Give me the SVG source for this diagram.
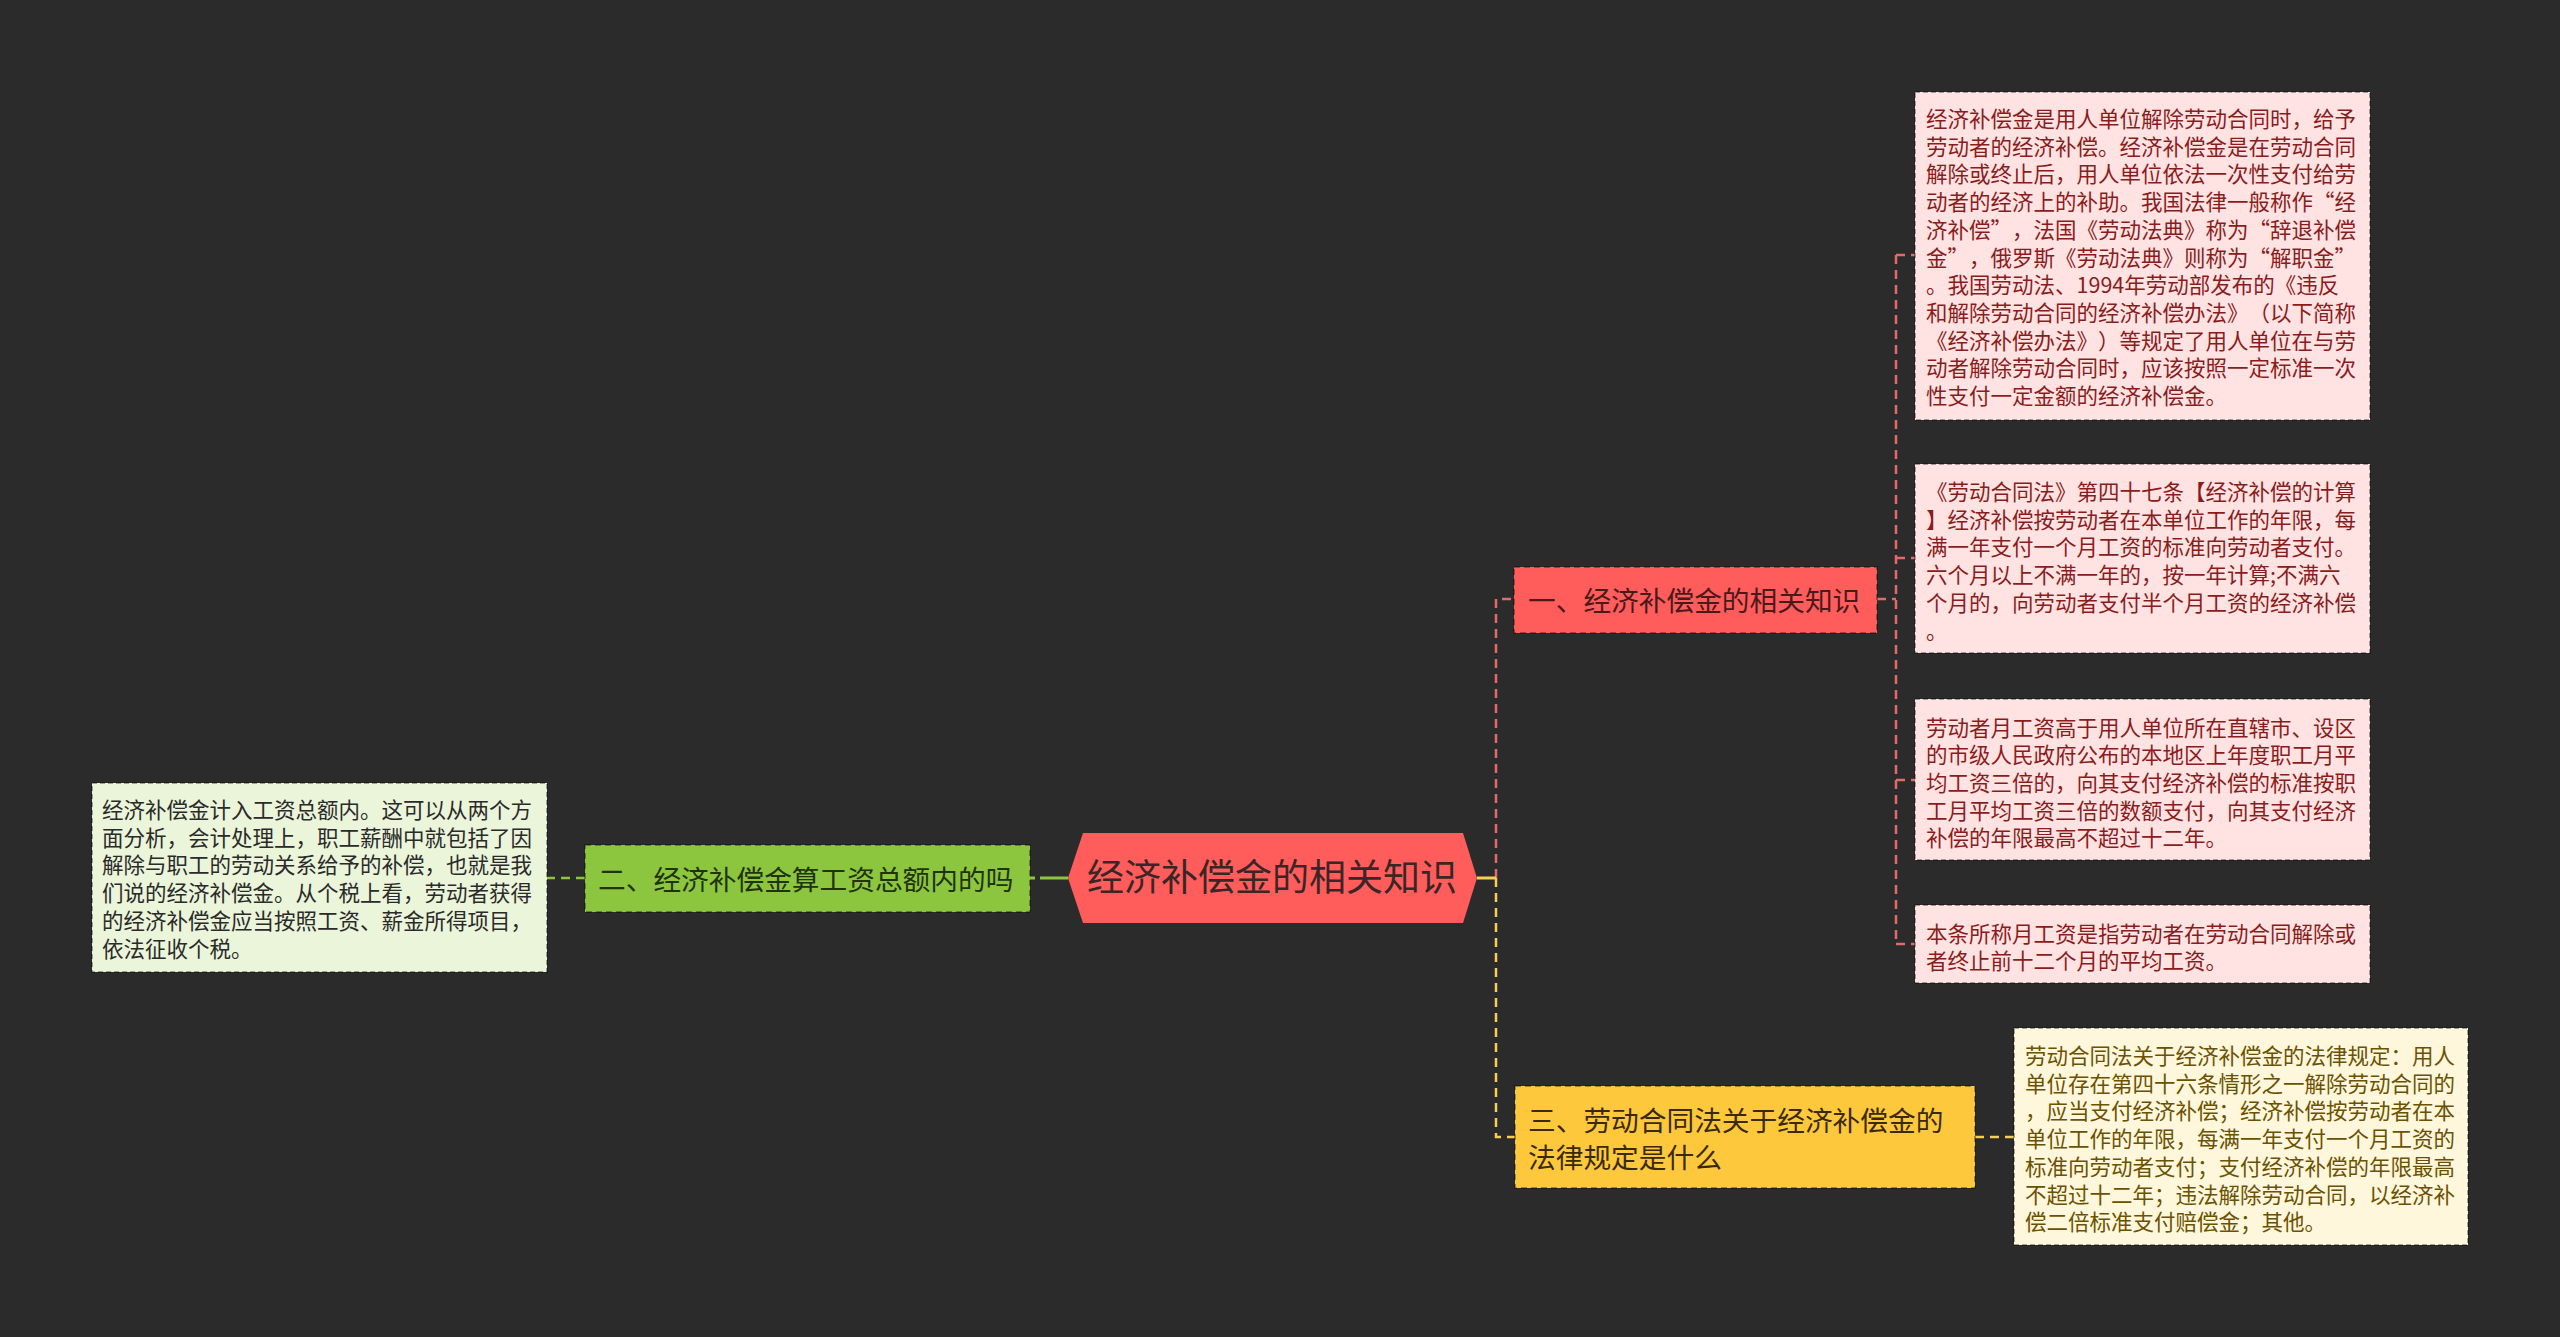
<svg xmlns="http://www.w3.org/2000/svg" width="2560" height="1337" viewBox="0 0 2560 1337" xml:lang="zh-CN">
<style>
text{font-family:"Noto Sans CJK SC","Noto Sans",sans-serif;text-spacing-trim:space-all;}
.detail{font-size:21.5px;}
.node{font-size:27.7px;}
.fw{font-feature-settings:"fwid" 1;}
.nb{stroke:rgba(0,0,0,0.45);stroke-width:1.5;stroke-dasharray:6 4;}
.db{stroke:rgba(0,0,0,0.45);stroke-width:1.5;stroke-dasharray:5 3;}
.cr{fill:none;stroke:#e46a6a;stroke-width:2.5;stroke-dasharray:9 6;}
.cy{fill:none;stroke:#f6cf55;stroke-width:2.5;stroke-dasharray:9 6;}
.cg{fill:none;stroke:#8cc63f;stroke-width:2.5;stroke-dasharray:9 6;}
</style>
<rect x="0" y="0" width="2560" height="1337" fill="#2b2b2b"/>
<g id="connectors">
  <path class="cr" d="M1496,878 V599 H1514"/>
  <path d="M1477,878 H1496" fill="none" stroke="#f6cf55" stroke-width="3"/>
  <path class="cy" d="M1496,878 V1137 H1515"/>
  <path class="cr" d="M1877,599 H1896"/>
  <path class="cr" d="M1896,255 V944"/>
  <path class="cr" d="M1896,255 H1915"/>
  <path class="cr" d="M1896,558 H1915"/>
  <path class="cr" d="M1896,780 H1915"/>
  <path class="cr" d="M1896,944 H1915"/>
  <path class="cy" d="M1975,1137 H2014"/>
  <path d="M1040,878 H1068" fill="none" stroke="#8cc63f" stroke-width="3"/>
  <path d="M1030,878 H1035" fill="none" stroke="#8cc63f" stroke-width="3"/>
  <path class="cg" d="M585,878 H547"/>
</g>
<g id="center">
  <path d="M1083,833 L1463,833 L1477,878 L1463,923 L1083,923 L1068,878 Z" fill="#ff5c5c"/>
  <text x="1272" y="891" text-anchor="middle" font-size="37" fill="#3a2626">经济补偿金的相关知识</text>
</g>
<g id="n1">
  <rect x="1514" y="567" width="363" height="66" fill="#ff5c5c" class="nb"/>
  <text class="node" x="1528" y="610.5" fill="#4a1a1a">一、经济补偿金的相关知识</text>
</g>
<g id="n2">
  <rect x="585" y="845" width="445" height="67" fill="#8cc63f" class="nb"/>
  <text class="node" x="598" y="890" fill="#22330c">二、经济补偿金算工资总额内的吗</text>
</g>
<g id="n3">
  <rect x="1515" y="1086" width="460" height="102" fill="#fdc83c" class="nb"/>
  <text class="node" x="1528" y="1131" fill="#3a2a08">三、劳动合同法关于经济补偿金的<tspan x="1528" dy="37">法律规定是什么</tspan></text>
</g>
<g id="d1">
  <rect x="1915" y="92" width="455" height="328" fill="#ffe3e3" class="db"/>
  <text class="detail fw" x="1926" y="127" fill="#8b1c1c">经济补偿金是用人单位解除劳动合同时，给予<tspan x="1926" dy="27.7">劳动者的经济补偿。经济补偿金是在劳动合同</tspan><tspan x="1926" dy="27.7">解除或终止后，用人单位依法一次性支付给劳</tspan><tspan x="1926" dy="27.7">动者的经济上的补助。我国法律一般称作“经</tspan><tspan x="1926" dy="27.7">济补偿”，法国《劳动法典》称为“辞退补偿</tspan><tspan x="1926" dy="27.7">金”，俄罗斯《劳动法典》则称为“解职金”</tspan><tspan x="1926" dy="27.7">。我国劳动法、<tspan style="font-feature-settings:normal">1994</tspan>年劳动部发布的《违反</tspan><tspan x="1926" dy="27.7">和解除劳动合同的经济补偿办法》（以下简称</tspan><tspan x="1926" dy="27.7">《经济补偿办法》）等规定了用人单位在与劳</tspan><tspan x="1926" dy="27.7">动者解除劳动合同时，应该按照一定标准一次</tspan><tspan x="1926" dy="27.7">性支付一定金额的经济补偿金。</tspan></text>
</g>
<g id="d2">
  <rect x="1915" y="464" width="455" height="189" fill="#ffe3e3" class="db"/>
  <text class="detail" x="1926" y="500" fill="#8b1c1c">《劳动合同法》第四十七条【经济补偿的计算<tspan x="1926" dy="27.7">】经济补偿按劳动者在本单位工作的年限，每</tspan><tspan x="1926" dy="27.7">满一年支付一个月工资的标准向劳动者支付。</tspan><tspan x="1926" dy="27.7">六个月以上不满一年的，按一年计算;不满六</tspan><tspan x="1926" dy="27.7">个月的，向劳动者支付半个月工资的经济补偿</tspan><tspan x="1926" dy="27.7">。</tspan></text>
</g>
<g id="d3">
  <rect x="1915" y="699" width="455" height="161" fill="#ffe3e3" class="db"/>
  <text class="detail" x="1926" y="735.5" fill="#8b1c1c">劳动者月工资高于用人单位所在直辖市、设区<tspan x="1926" dy="27.7">的市级人民政府公布的本地区上年度职工月平</tspan><tspan x="1926" dy="27.7">均工资三倍的，向其支付经济补偿的标准按职</tspan><tspan x="1926" dy="27.7">工月平均工资三倍的数额支付，向其支付经济</tspan><tspan x="1926" dy="27.7">补偿的年限最高不超过十二年。</tspan></text>
</g>
<g id="d4">
  <rect x="1915" y="905" width="455" height="78" fill="#ffe3e3" class="db"/>
  <text class="detail" x="1926" y="941.5" fill="#8b1c1c">本条所称月工资是指劳动者在劳动合同解除或<tspan x="1926" dy="27.7">者终止前十二个月的平均工资。</tspan></text>
</g>
<g id="d5">
  <rect x="2014" y="1028" width="454" height="217" fill="#fff7dc" class="db"/>
  <text class="detail" x="2025" y="1064" fill="#6b5200">劳动合同法关于经济补偿金的法律规定：用人<tspan x="2025" dy="27.7">单位存在第四十六条情形之一解除劳动合同的</tspan><tspan x="2025" dy="27.7">，应当支付经济补偿；经济补偿按劳动者在本</tspan><tspan x="2025" dy="27.7">单位工作的年限，每满一年支付一个月工资的</tspan><tspan x="2025" dy="27.7">标准向劳动者支付；支付经济补偿的年限最高</tspan><tspan x="2025" dy="27.7">不超过十二年；违法解除劳动合同，以经济补</tspan><tspan x="2025" dy="27.7">偿二倍标准支付赔偿金；其他。</tspan></text>
</g>
<g id="d6">
  <rect x="92" y="783" width="455" height="189" fill="#ebf5da" class="db"/>
  <text class="detail" x="102" y="818" fill="#2a2a2a">经济补偿金计入工资总额内。这可以从两个方<tspan x="102" dy="27.7">面分析，会计处理上，职工薪酬中就包括了因</tspan><tspan x="102" dy="27.7">解除与职工的劳动关系给予的补偿，也就是我</tspan><tspan x="102" dy="27.7">们说的经济补偿金。从个税上看，劳动者获得</tspan><tspan x="102" dy="27.7">的经济补偿金应当按照工资、薪金所得项目，</tspan><tspan x="102" dy="27.7">依法征收个税。</tspan></text>
</g>
</svg>
